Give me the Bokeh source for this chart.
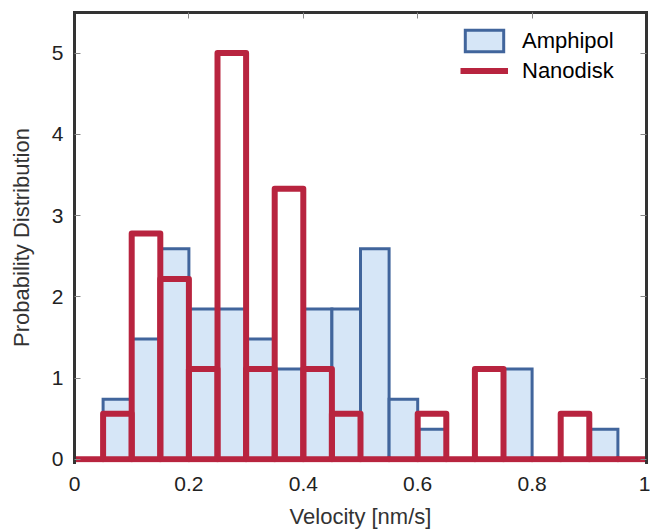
from bokeh.plotting import figure
from bokeh.models import (Range1d, LinearAxis, FixedTicker, CustomJSTickFormatter,
                          Legend, LegendItem, ColumnDataSource)
from bokeh.embed import file_html
from bokeh.resources import INLINE

# ---- data (histogram bins of width 0.05, values are probability densities) ----
bin_left = [0.00, 0.05, 0.10, 0.15, 0.20, 0.25, 0.30, 0.35, 0.40, 0.45,
            0.50, 0.55, 0.60, 0.65, 0.70, 0.75, 0.80, 0.85, 0.90, 0.95]
bin_right = [0.05, 0.10, 0.15, 0.20, 0.25, 0.30, 0.35, 0.40, 0.45, 0.50,
             0.55, 0.60, 0.65, 0.70, 0.75, 0.80, 0.85, 0.90, 0.95, 1.00]
amphipol = [0.00, 0.74, 1.48, 2.59, 1.85, 1.85, 1.48, 1.11, 1.85, 1.85,
            2.59, 0.74, 0.37, 0.00, 0.00, 1.11, 0.00, 0.00, 0.37, 0.00]
nanodisk = [0.00, 0.56, 2.78, 2.22, 1.11, 5.00, 1.11, 3.33, 1.11, 0.56,
            0.00, 0.00, 0.56, 0.00, 1.11, 0.00, 0.00, 0.56, 0.00, 0.00]
x_ticks = [0, 0.2, 0.4, 0.6, 0.8, 1.0]
y_ticks = [0, 1, 2, 3, 4, 5]
series_names = ["Amphipol", "Nanodisk"]

FONT = "Liberation Sans"
BLUE_EDGE = "#41659c"
BLUE_FILL = "#d6e6f7"
RED = "#b8243f"
AXIS = "#333333"

p = figure(width=650, height=531,
           x_range=Range1d(0, 1), y_range=Range1d(-0.04, 5.5),
           output_backend="svg", toolbar_location=None,
           min_border_left=74, min_border_right=4,
           min_border_top=12, min_border_bottom=69,
           x_axis_label="Velocity [nm/s]", y_axis_label="Probability Distribution")
p.grid.visible = False
p.outline_line_color = None
p.background_fill_color = "white"
p.border_fill_color = "white"

src = ColumnDataSource(dict(left=bin_left, right=bin_right, amph=amphipol, nano=nanodisk))

r_amph = p.quad(left="left", right="right", bottom=0, top="amph", source=src,
                fill_color=BLUE_FILL, line_color=BLUE_EDGE, line_width=3, line_join="miter")
r_nano = p.quad(left="left", right="right", bottom=0, top="nano", source=src,
                fill_color=None, line_color=RED, line_width=6, line_join="round")
# legend-only proxy (a single NaN point draws nothing on the plot)
r_nano_leg = p.line(x=[float("nan")], y=[float("nan")], line_color=RED, line_width=6)

xt = FixedTicker(ticks=x_ticks)
yt = FixedTicker(ticks=y_ticks)

xa = p.xaxis[0]
ya = p.yaxis[0]
xa.ticker = xt
ya.ticker = yt
xa.formatter = CustomJSTickFormatter(code="return String(Math.round(tick*10)/10);")
for ax in (xa, ya):
    ax.major_tick_in = 6
    ax.major_tick_out = 0
    ax.minor_tick_in = 0
    ax.minor_tick_out = 0
    ax.major_tick_line_color = "#888888"
    ax.major_label_text_font = FONT
    ax.major_label_text_font_size = "21px"
    ax.major_label_text_color = "#222222"
    ax.axis_label_text_font = FONT
    ax.axis_label_text_font_size = "22px"
    ax.axis_label_text_font_style = "normal"
    ax.axis_label_text_color = "#333333"
xa.axis_line_color = None
xa.major_tick_line_color = None
xa.major_label_standoff = 14
xa.axis_label_standoff = 10
ya.axis_line_color = AXIS
ya.axis_line_width = 3
ya.axis_line_cap = "square"
ya.major_label_standoff = 11
ya.axis_label_standoff = 15

blank = CustomJSTickFormatter(code="return '';")
top = LinearAxis(ticker=xt, formatter=blank, major_label_text_font_size="0px",
                 major_label_standoff=0, axis_line_color=AXIS, axis_line_width=3,
                 axis_line_cap="square",
                 major_tick_in=6, major_tick_out=0, minor_tick_in=0, minor_tick_out=0,
                 major_tick_line_color="#888888")
right = LinearAxis(ticker=yt, formatter=blank, major_label_text_font_size="0px",
                   major_label_standoff=0, axis_line_color=AXIS, axis_line_width=3,
                   axis_line_cap="square",
                   major_tick_in=6, major_tick_out=0, minor_tick_in=0, minor_tick_out=0,
                   major_tick_line_color="#888888")
p.add_layout(top, "above")
p.add_layout(right, "right")

legend = Legend(items=[LegendItem(label=series_names[0], renderers=[r_amph]),
                       LegendItem(label=series_names[1], renderers=[r_nano_leg])],
                location=(386, 378), orientation="vertical",
                glyph_width=48, glyph_height=27, label_height=27, spacing=3,
                padding=0, margin=0, label_standoff=14,
                border_line_color=None, background_fill_alpha=0,
                label_text_font=FONT, label_text_font_size="22px",
                label_text_color="black")
p.add_layout(legend)

open("out.html", "w").write(file_html(p, INLINE))
